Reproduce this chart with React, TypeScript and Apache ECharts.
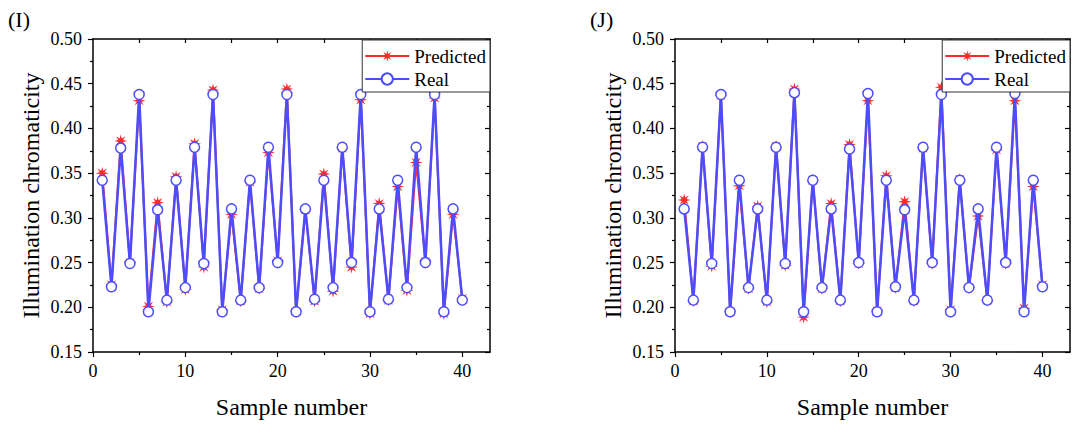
import React, { useEffect, useRef } from "react";
import * as echarts from "echarts";

// ---------- data ----------
const samples: number[] = Array.from({ length: 40 }, (_, i) => i + 1);

const predictedI: number[] = [
  0.350, 0.225, 0.386, 0.250, 0.431, 0.201, 0.317, 0.206, 0.346, 0.220,
  0.383, 0.245, 0.443, 0.197, 0.304, 0.207, 0.340, 0.221, 0.373, 0.252,
  0.444, 0.195, 0.309, 0.207, 0.349, 0.218, 0.378, 0.245, 0.432, 0.193,
  0.316, 0.208, 0.335, 0.219, 0.362, 0.251, 0.434, 0.193, 0.304, 0.210,
];
const realI: number[] = [
  0.342, 0.223, 0.378, 0.249, 0.438, 0.195, 0.309, 0.208, 0.342, 0.222,
  0.379, 0.249, 0.438, 0.195, 0.310, 0.208, 0.342, 0.222, 0.379, 0.250,
  0.438, 0.195, 0.310, 0.209, 0.342, 0.222, 0.379, 0.250, 0.438, 0.195,
  0.310, 0.209, 0.342, 0.222, 0.379, 0.250, 0.438, 0.195, 0.310, 0.208,
];
const predictedJ: number[] = [
  0.320, 0.207, 0.380, 0.246, 0.437, 0.195, 0.336, 0.221, 0.313, 0.206,
  0.380, 0.247, 0.444, 0.189, 0.342, 0.221, 0.316, 0.207, 0.382, 0.249,
  0.431, 0.196, 0.347, 0.222, 0.318, 0.207, 0.378, 0.249, 0.446, 0.197,
  0.343, 0.222, 0.302, 0.208, 0.376, 0.249, 0.431, 0.199, 0.335, 0.225,
];
const realJ: number[] = [
  0.310, 0.208, 0.379, 0.249, 0.438, 0.195, 0.342, 0.222, 0.310, 0.208,
  0.379, 0.249, 0.440, 0.195, 0.342, 0.222, 0.310, 0.208, 0.377, 0.250,
  0.439, 0.195, 0.342, 0.223, 0.309, 0.208, 0.379, 0.250, 0.438, 0.195,
  0.342, 0.222, 0.310, 0.208, 0.379, 0.250, 0.439, 0.195, 0.342, 0.223,
];

const panelTitles = ["(I)", "(J)"];
const xMajor = [0, 10, 20, 30, 40];
const xMinor = [5, 15, 25, 35];
const xTop = [5, 10, 15, 20, 25, 30, 35, 40];
const xName = "Sample number";
const yName = "Illumination chromaticity";
const seriesNames = ["Predicted", "Real"];

// ---------- styles ----------
const FONT = "Liberation Serif";
const RED = "#ff2b2b";
const BLUE = "#4d4dff";
const BLACK = "#000";

function starPath(n: number, rOut: number, rIn: number): string {
  const pts: string[] = [];
  for (let i = 0; i < n * 2; i++) {
    const r = i % 2 === 0 ? rOut : rIn;
    const a = (Math.PI * i) / n - Math.PI / 2;
    pts.push(`${(r * Math.cos(a)).toFixed(3)} ${(r * Math.sin(a)).toFixed(3)}`);
  }
  return "path://M" + pts.join(" L") + " Z";
}
const STAR = starPath(8, 10, 4);

export default function App() {
  const ref = useRef<HTMLDivElement>(null);
  useEffect(() => {
    if (!ref.current) return;
    const chart = echarts.init(ref.current, undefined, { renderer: "svg" });
    const panels = [
      { left: 93, width: 397, pred: predictedI, real: realI, title: panelTitles[0], tx: 8 },
      { left: 675, width: 395, pred: predictedJ, real: realJ, title: panelTitles[1], tx: 590 },
    ];
    const grid: any[] = [];
    const xAxis: any[] = [];
    const yAxis: any[] = [];
    const series: any[] = [];
    const legend: any[] = [];
    const title: any[] = [];
    panels.forEach((p, gi) => {
      grid.push({ left: p.left, top: 39, width: p.width, height: 320, containLabel: false });
      const base = {
        type: "value",
        gridIndex: gi,
        min: 0,
        max: 43,
        splitLine: { show: false },
      };
      const xMainIdx = xAxis.length;
      xAxis.push({
        ...base,
        position: "bottom",
        name: xName,
        nameLocation: "middle",
        nameGap: 43,
        nameTextStyle: { fontFamily: FONT, fontSize: 24, color: BLACK },
        axisLine: { show: true, onZero: false, lineStyle: { color: BLACK, width: 1.5 } },
        axisTick: { show: true, length: 5, customValues: xMajor, lineStyle: { color: BLACK, width: 1.2 } },
        axisLabel: {
          show: true,
          customValues: xMajor,
          fontFamily: FONT,
          fontSize: 18,
          color: BLACK,
          margin: 10,
        },
      });
      xAxis.push({
        ...base,
        position: "bottom",
        axisLine: { show: false, onZero: false },
        axisTick: { show: true, length: 3, customValues: xMinor, lineStyle: { color: BLACK, width: 1.2 } },
        axisLabel: { show: false },
      });
      xAxis.push({
        ...base,
        position: "top",
        axisLine: { show: true, onZero: false, lineStyle: { color: BLACK, width: 1.5 } },
        axisTick: { show: true, inside: true, length: 4, customValues: xTop, lineStyle: { color: BLACK, width: 1.2 } },
        axisLabel: { show: false },
      });
      const yMainIdx = yAxis.length;
      const ybase = {
        type: "value",
        gridIndex: gi,
        min: 0.15,
        max: 0.5,
        interval: 0.05,
        splitLine: { show: false },
        minorTick: { show: true, splitNumber: 2, length: 3, lineStyle: { color: BLACK, width: 1.2 } },
        minorSplitLine: { show: false },
      };
      yAxis.push({
        ...ybase,
        position: "left",
        name: yName,
        nameLocation: "middle",
        nameGap: 50,
        nameTextStyle: { fontFamily: FONT, fontSize: 24, color: BLACK },
        axisLine: { show: true, onZero: false, lineStyle: { color: BLACK, width: 1.5 } },
        axisTick: { show: true, length: 5, lineStyle: { color: BLACK, width: 1.2 } },
        axisLabel: {
          show: true,
          fontFamily: FONT,
          fontSize: 18,
          color: BLACK,
          margin: 11,
          formatter: (v: number) => v.toFixed(2),
        },
      });
      yAxis.push({
        ...ybase,
        position: "right",
        axisLine: { show: true, onZero: false, lineStyle: { color: BLACK, width: 1.5 } },
        axisTick: { show: true, inside: true, length: 5, lineStyle: { color: BLACK, width: 1.2 } },
        axisLabel: { show: false },
      });
      const predData = samples.map((s, i) => [s, p.pred[i]]);
      const realData = samples.map((s, i) => [s, p.real[i]]);
      series.push({
        name: seriesNames[0],
        type: "line",
        xAxisIndex: xMainIdx,
        yAxisIndex: yMainIdx,
        data: predData,
        symbol: STAR,
        symbolSize: 13,
        showAllSymbol: true,
        lineStyle: { color: RED, width: 2 },
        itemStyle: { color: RED, borderWidth: 0 },
        emphasis: { disabled: true },
        z: 2,
      });
      series.push({
        name: seriesNames[1],
        type: "line",
        xAxisIndex: xMainIdx,
        yAxisIndex: yMainIdx,
        data: realData,
        symbol: "circle",
        symbolSize: 10,
        showAllSymbol: true,
        lineStyle: { color: BLUE, width: 2.5 },
        itemStyle: { color: "#fff", borderColor: BLUE, borderWidth: 1.5 },
        emphasis: { disabled: true },
        z: 3,
      });
      legend.push({
        show: true,
        orient: "vertical",
        right: 1072 - (p.left + p.width),
        top: 40,
        data: seriesNames,
        itemWidth: 44,
        itemHeight: 14,
        itemGap: 3,
        padding: [6, 4, 3, 2],
        borderColor: "#333",
        borderWidth: 1,
        backgroundColor: "#fff",
        selectedMode: false,
        textStyle: { fontFamily: FONT, fontSize: 19, color: BLACK, lineHeight: 20 },
      });
      title.push({
        text: p.title,
        left: p.tx,
        top: 8,
        padding: 0,
        textStyle: { fontFamily: FONT, fontSize: 22, fontWeight: "normal", color: BLACK },
      });
    });
    chart.setOption({
      animation: false,
      backgroundColor: "#fff",
      title,
      grid,
      xAxis,
      yAxis,
      legend,
      series,
    });
    return () => chart.dispose();
  }, []);
  return (
    <div
      ref={ref}
      style={{ position: "absolute", left: 0, top: 0, width: 1072, height: 424 }}
    />
  );
}
